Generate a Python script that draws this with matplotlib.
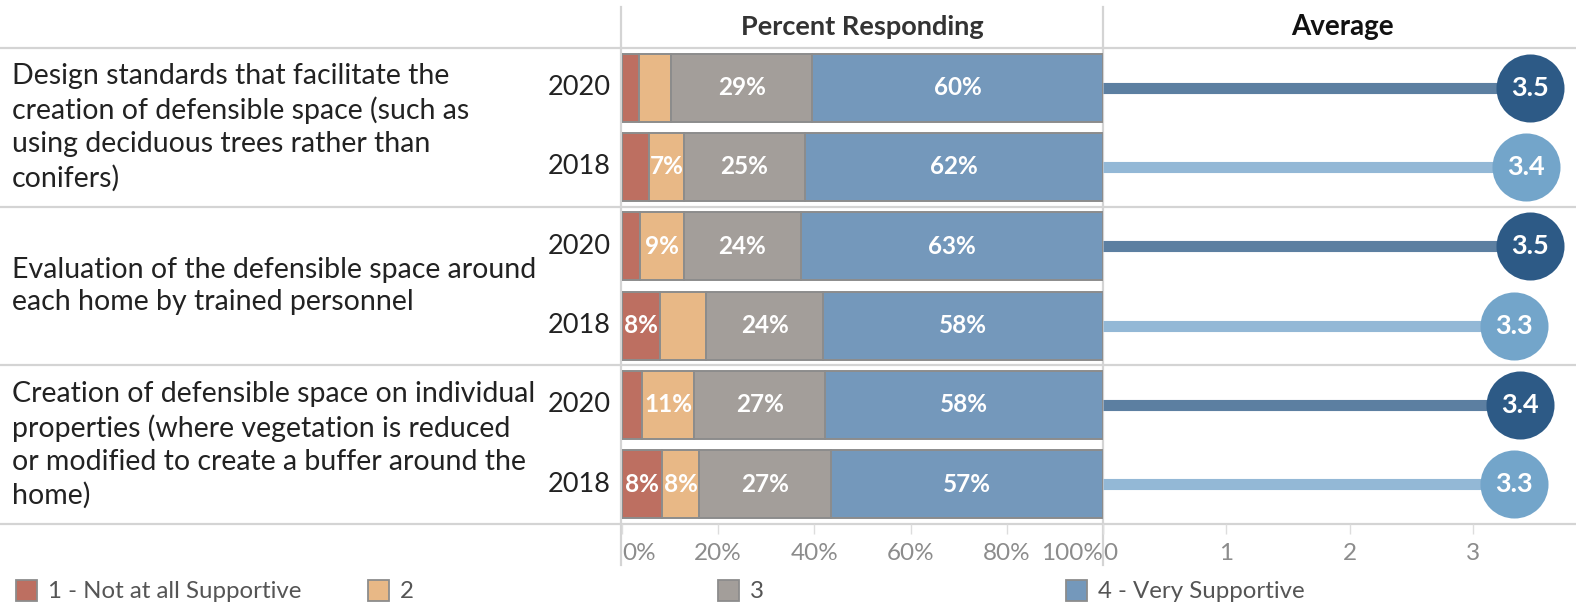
import matplotlib
matplotlib.use("Agg")
import matplotlib.pyplot as plt
from matplotlib.patches import Rectangle
import numpy as np

plt.rcParams['font.family'] = ['Lato', 'DejaVu Sans']

# ---------------- data ----------------
questions = [
    "Design standards that facilitate the\ncreation of defensible space (such as\nusing deciduous trees rather than\nconifers)",
    "Evaluation of the defensible space around\neach home by trained personnel",
    "Creation of defensible space on individual\nproperties (where vegetation is reduced\nor modified to create a buffer around the\nhome)",
]
years = ["2020", "2018", "2020", "2018", "2020", "2018"]
categories = ["1 - Not at all Supportive", "2", "3", "4 - Very Supportive"]
pct_1 = [3.5, 5.7, 3.8, 7.9, 4.2, 8.3]
pct_2 = [6.7, 7.1, 9.0, 9.6, 10.8, 7.8]
pct_3 = [29.4, 25.3, 24.4, 24.3, 27.3, 27.4]
pct_4 = [60.4, 61.9, 62.8, 58.2, 57.7, 56.5]
pct_labels = [
    ["", "", "29%", "60%"],
    ["", "7%", "25%", "62%"],
    ["", "9%", "24%", "63%"],
    ["8%", "", "24%", "58%"],
    ["", "11%", "27%", "58%"],
    ["8%", "8%", "27%", "57%"],
]
averages = [3.46, 3.43, 3.46, 3.33, 3.38, 3.33]
avg_labels = ["3.5", "3.4", "3.5", "3.3", "3.4", "3.3"]
pct_ticks = [0, 20, 40, 60, 80, 100]
pct_tick_labels = ["0%", "20%", "40%", "60%", "80%", "100%"]
avg_ticks = [0, 1, 2, 3]
avg_tick_labels = ["0", "1", "2", "3"]

# ---------------- style ----------------
W, H = 1576, 608
seg_colors = ["#BD6F61", "#E8B886", "#A39E9A", "#7498BB"]
edge_col = "#8C8C8C"
circ_dark, line_dark = "#2D5A86", "#5C7FA1"
circ_light, line_light = "#73A5CA", "#93B8D6"
grid_col = "#D4D4D4"
txt_col = "#222222"
tick_col = "#8C8C8C"

fig = plt.figure(figsize=(W / 100, H / 100), dpi=100)


def px(x0, y0, x1, y1):
    return [x0 / W, 1 - y1 / H, (x1 - x0) / W, (y1 - y0) / H]


top, bot = 48, 524
row_h = (bot - top) / 6

bg = fig.add_axes([0, 0, 1, 1])
bg.set_xlim(0, W)
bg.set_ylim(H, 0)
bg.axis("off")

# grid lines
for yy in [top, top + 2 * row_h, top + 4 * row_h, bot]:
    bg.plot([0, W], [yy, yy], color=grid_col, lw=1.6, zorder=1)
for xx in [621, 1103]:
    bg.plot([xx, xx], [7, 565], color=grid_col, lw=1.6, zorder=1)

# headers
bg.text(862, 27, "Percent Responding", ha="center", va="center", fontsize=19.5,
        fontweight="bold", color="#333333")
bg.text(1342, 27, "Average", ha="center", va="center", fontsize=20,
        fontweight="bold", color="#111111")

# question text
for g, q in enumerate(questions):
    yc = top + (2 * g + 1) * row_h
    bg.text(12, yc, q, ha="left", va="center", fontsize=20.5, color=txt_col,
            linespacing=1.33)
for i, yr in enumerate(years):
    yc = top + (i + 0.5) * row_h
    bg.text(611, yc, yr, ha="right", va="center", fontsize=19.5, color=txt_col)

# ---------------- stacked bars ----------------
ax = fig.add_axes(px(622, top, 1103, bot))
ax.patch.set_alpha(0)
rows = np.arange(6)
series = [pct_1, pct_2, pct_3, pct_4]
left = np.zeros(6)
for k, vals in enumerate(series):
    vals = np.array(vals)
    ax.barh(rows, vals, left=left, height=0.86, color=seg_colors[k],
            edgecolor=edge_col, linewidth=1.4)
    for r in rows:
        lab = pct_labels[r][k]
        if lab:
            ax.text(left[r] + vals[r] / 2, r, lab, ha="center", va="center",
                    color="white", fontsize=17.5, fontweight="bold")
    left += vals
ax.set_xlim(0, 100)
ax.set_ylim(5.5, -0.5)
ax.set_yticks([])
for s in ax.spines.values():
    s.set_visible(False)
ax.set_xticks(pct_ticks)
ax.set_xticklabels(pct_tick_labels)
ax.tick_params(axis="x", length=7, color="#DDDDDD", width=1, pad=7,
               labelsize=17.5, labelcolor=tick_col)
tl = ax.get_xticklabels()
tl[0].set_ha("left")
tl[-1].set_ha("right")

# ---------------- averages ----------------
ax2 = fig.add_axes(px(1103, top, 1576, bot))
ax2.patch.set_alpha(0)
xmax = (1576 - 1103) / 123.3
for r in rows:
    dark = (r % 2 == 0)
    ax2.plot([0, averages[r]], [r, r], color=line_dark if dark else line_light,
             lw=8, solid_capstyle="butt", zorder=2)
    ax2.scatter([averages[r]], [r], s=2400,
                color=circ_dark if dark else circ_light, zorder=3, linewidths=0)
    ax2.text(averages[r], r, avg_labels[r], ha="center", va="center",
             color="white", fontsize=19.5, fontweight="bold", zorder=4)
ax2.set_xlim(0, xmax)
ax2.set_ylim(5.5, -0.5)
ax2.set_yticks([])
for s in ax2.spines.values():
    s.set_visible(False)
ax2.set_xticks(avg_ticks)
ax2.set_xticklabels(avg_tick_labels)
ax2.tick_params(axis="x", length=7, color="#DDDDDD", width=1, pad=7,
                labelsize=17.5, labelcolor=tick_col)
tl2 = ax2.get_xticklabels()
tl2[0].set_ha("left")

# ---------------- legend ----------------
leg_x = [16, 368, 718, 1066]
for k, cat in enumerate(categories):
    bg.add_patch(Rectangle((leg_x[k], 580), 21, 21, facecolor=seg_colors[k],
                           edgecolor=edge_col, lw=1.3, zorder=2))
    bg.text(leg_x[k] + 32, 591, cat, ha="left", va="center", fontsize=17.3,
            color="#555555")

fig.savefig("out.png", dpi=100)
